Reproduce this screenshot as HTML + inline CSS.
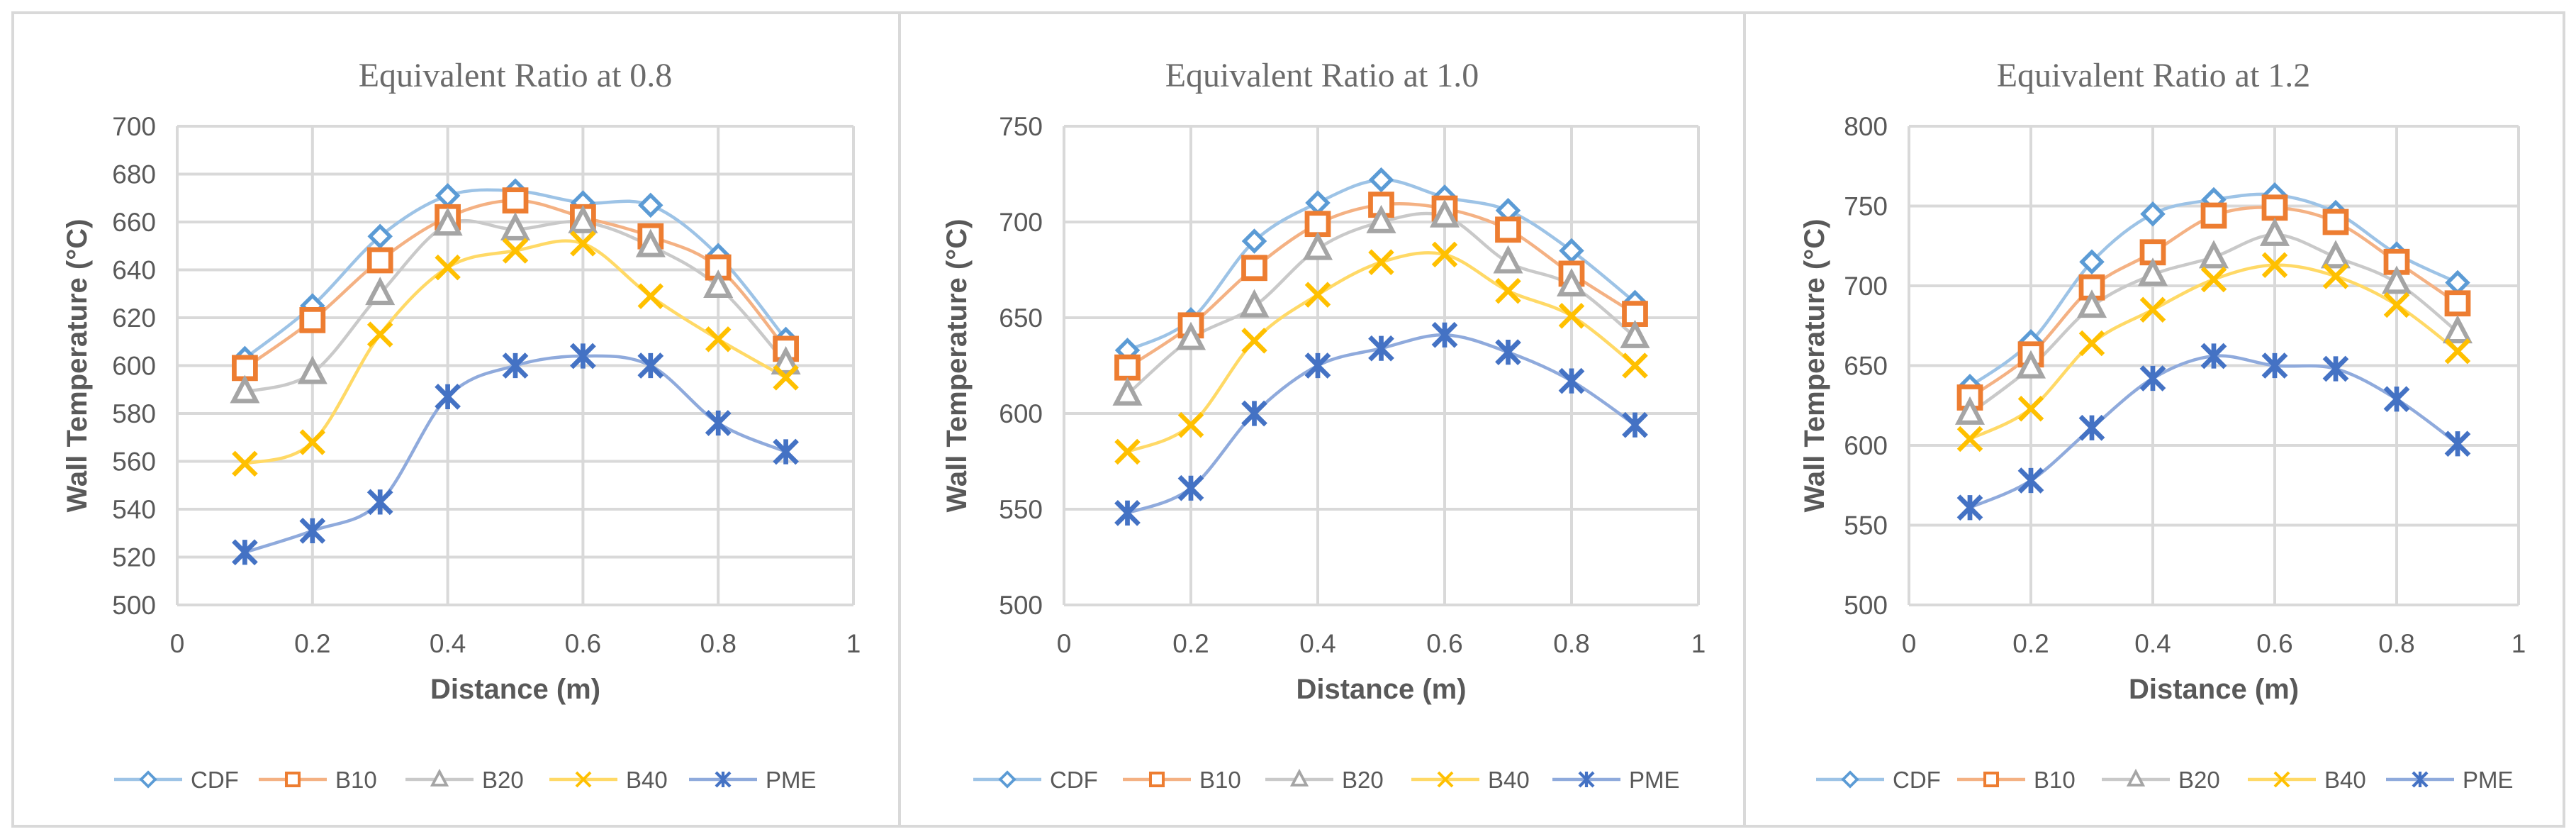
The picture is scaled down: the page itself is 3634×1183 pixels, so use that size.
<!DOCTYPE html>
<html><head><meta charset="utf-8"><style>
html,body{margin:0;padding:0;background:#fff;}
svg{display:block;}
</style></head><body>
<svg id="fig" width="3634" height="1183" xmlns="http://www.w3.org/2000/svg">
<rect x="18" y="18" width="3599" height="1147" fill="#fff" stroke="#d9d9d9" stroke-width="4"/>
<line x1="1269" y1="18" x2="1269" y2="1165" stroke="#d9d9d9" stroke-width="4"/>
<line x1="2461" y1="18" x2="2461" y2="1165" stroke="#d9d9d9" stroke-width="4"/>
</svg>
<script>
const xValues = [0.1,0.2,0.3,0.4,0.5,0.6,0.7,0.8,0.9];
const xTicks = [0,0.2,0.4,0.6,0.8,1];
const seriesNames = ["CDF","B10","B20","B40","PME"];
const titles = ["Equivalent Ratio at 0.8","Equivalent Ratio at 1.0","Equivalent Ratio at 1.2"];
const yTicks08 = [500,520,540,560,580,600,620,640,660,680,700];
const yTicks10 = [500,550,600,650,700,750];
const yTicks12 = [500,550,600,650,700,750,800];
const cdf08 = [603,625,654,671,673,668,667,646,611];
const b1008 = [599,619,644,662,669,662,654,641,607];
const b2008 = [589,597,630,659,657,660,650,633,601];
const b4008 = [559,568,613,641,648,651,629,611,595];
const pme08 = [522,531,543,587,600,604,600,576,564];
const cdf10 = [633,649,690,710,722,713,706,685,658];
const b1010 = [624,646,676,699,709,707,696,673,652];
const b2010 = [610,639,656,686,700,703,679,667,640];
const b4010 = [580,594,638,662,679,683,664,651,625];
const pme10 = [548,561,600,625,634,641,632,617,594];
const cdf12 = [637,665,715,745,754,757,746,720,702];
const b1012 = [630,657,699,721,744,749,740,715,689];
const b2012 = [620,649,687,707,718,732,718,702,671];
const b4012 = [604,623,664,685,704,713,706,688,659];
const pme12 = [561,578,611,642,656,650,648,629,601];

const NS="http://www.w3.org/2000/svg";
const svg=document.getElementById('fig');
const markerCol=["#5B9BD5","#ED7D31","#A5A5A5","#FFC000","#4472C4"];
const lineCol=["#9DC3E6","#F4B183","#C9C9C9","#FFD966","#8FAADC"];
const FONT='"Liberation Sans", "DejaVu Sans", sans-serif';
function mk(tag,attrs,parent){const e=document.createElementNS(NS,tag);for(const k in attrs)e.setAttribute(k,attrs[k]);(parent||svg).appendChild(e);return e;}

function marker(g,kind,x,y,s){
  const c=markerCol[kind];
  let e;
  if(kind===0){e=mk('path',{d:`M${x} ${y-s}L${x+s} ${y}L${x} ${y+s}L${x-s} ${y}Z`,fill:'#fff',stroke:c,'stroke-width':s*0.38},g);}
  else if(kind===1){e=mk('rect',{x:x-s,y:y-s,width:2*s,height:2*s,fill:'#fff',stroke:c,'stroke-width':s*0.45},g);}
  else if(kind===2){e=mk('path',{d:`M${x} ${y-s*1.1}L${x+s} ${y+s*0.8}L${x-s} ${y+s*0.8}Z`,fill:'#fff',stroke:c,'stroke-width':s*0.38},g);}
  else if(kind===3){e=mk('path',{d:`M${x-s} ${y-s}L${x+s} ${y+s}M${x+s} ${y-s}L${x-s} ${y+s}`,stroke:c,'stroke-width':s*0.4,fill:'none'},g);}
  else {e=mk('path',{d:`M${x-s} ${y-s}L${x+s} ${y+s}M${x+s} ${y-s}L${x-s} ${y+s}M${x} ${y-s*1.1}L${x} ${y+s*1.1}`,stroke:c,'stroke-width':s*0.42,fill:'none'},g);}
  return e;
}

function smoothPath(pts){
  let d=`M${pts[0][0]} ${pts[0][1]}`;
  for(let i=0;i<pts.length-1;i++){
    const p0=pts[Math.max(0,i-1)],p1=pts[i],p2=pts[i+1],p3=pts[Math.min(pts.length-1,i+2)];
    const t=1/6;
    const c1=[p1[0]+(p2[0]-p0[0])*t,p1[1]+(p2[1]-p0[1])*t];
    const c2=[p2[0]-(p3[0]-p1[0])*t,p2[1]-(p3[1]-p1[1])*t];
    d+=`C${c1[0]} ${c1[1]} ${c2[0]} ${c2[1]} ${p2[0]} ${p2[1]}`;
  }
  return d;
}

function chart(cfg){
  const g=mk('g',{});
  
  
  const {x0,x1,y0,y1,ymin,ymax}=cfg;
  const X=v=>x0+(v-0)/(1-0)*(x1-x0);
  const Y=v=>y1-(v-ymin)/(ymax-ymin)*(y1-y0);
  const cx=(x0+x1)/2;
  const t=mk('text',{x:cfg.titleX,y:122,'text-anchor':'middle','font-family':'"Liberation Serif", serif','font-size':48,fill:'#6b6b6b'},g);
  t.textContent=cfg.title;
  
  
  cfg.yTicks.forEach(v=>{
    const l=mk('line',{x1:x0,x2:x1,y1:Y(v),y2:Y(v),stroke:'#d9d9d9','stroke-width':4},g);
    
    
    const tx=mk('text',{x:x0-30,y:Y(v)+13,'text-anchor':'end','font-family':FONT,'font-size':37,fill:'#595959'},g);
    tx.textContent=v;
    
    
  });
  xTicks.forEach(v=>{
    const l=mk('line',{x1:X(v),x2:X(v),y1:y0,y2:y1,stroke:'#d9d9d9','stroke-width':4},g);
    
    
    const tx=mk('text',{x:X(v),y:y1+67,'text-anchor':'middle','font-family':FONT,'font-size':37,fill:'#595959'},g);
    tx.textContent=v;
    
    
  });
  const xt=mk('text',{x:cx,y:985,'text-anchor':'middle','font-family':FONT,'font-size':40,'font-weight':'bold',fill:'#595959'},g);
  xt.textContent='Distance (m)';
  
  
  const ycy=(y0+y1)/2;
  const yt=mk('text',{x:cfg.yTitleX,y:ycy,'text-anchor':'middle','font-family':FONT,'font-size':40,'font-weight':'bold',fill:'#595959',transform:`rotate(-90 ${cfg.yTitleX} ${ycy})`},g);
  yt.textContent='Wall Temperature (°C)';
  
  
  cfg.series.forEach((vals,k)=>{
    const pts=vals.map((v,i)=>[X(xValues[i]),Y(v)]);
    const p=mk('path',{d:smoothPath(pts),fill:'none',stroke:lineCol[k],'stroke-width':4.5},g);
    
    
  });
  cfg.series.forEach((vals,k)=>{
    vals.forEach((v,i)=>{
      const m=marker(g,k,X(xValues[i]),Y(v),k===1?15:(k===0?14:16));
      
      
    });
  });
  cfg.legendX.forEach((mx,k)=>{
    const lg=mk('g',{},g);
    
    
    mk('line',{x1:mx-48,x2:mx+48,y1:1099,y2:1099,stroke:lineCol[k],'stroke-width':4.5},lg);
    marker(lg,k,mx,1099,k===1?9:10);
    const tx=mk('text',{x:mx+60,y:1111,'font-family':FONT,'font-size':33,fill:'#595959'},lg);
    tx.textContent=seriesNames[k];
  });
}

chart({name:'chart-ratio-0-8',title:titles[0],titleX:727,x0:250,x1:1204,y0:178,y1:853,ymin:500,ymax:700,yTicks:yTicks08,yTitleX:122,
  series:[cdf08,b1008,b2008,b4008,pme08],legendX:[209,413,620,823,1020]});
chart({name:'chart-ratio-1-0',title:titles[1],titleX:1865,x0:1501,x1:2396,y0:178,y1:853,ymin:500,ymax:750,yTicks:yTicks10,yTitleX:1363,
  series:[cdf10,b1010,b2010,b4010,pme10],legendX:[1421,1632,1833,2039,2238]});
chart({name:'chart-ratio-1-2',title:titles[2],titleX:3038,x0:2693,x1:3553,y0:178,y1:853,ymin:500,ymax:800,yTicks:yTicks12,yTitleX:2573,
  series:[cdf12,b1012,b2012,b4012,pme12],legendX:[2610,2809,3013,3219,3414]});
</script>
</body></html>
